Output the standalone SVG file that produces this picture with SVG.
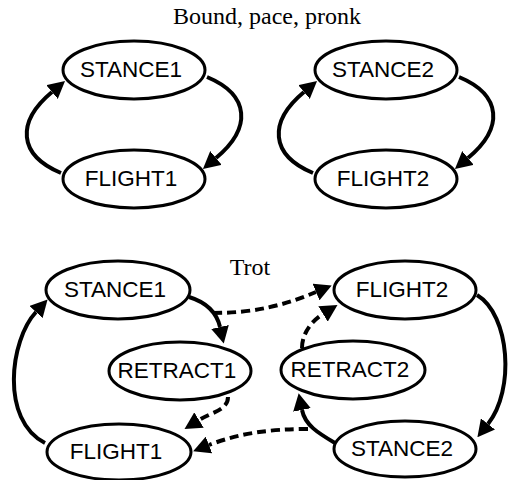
<svg xmlns="http://www.w3.org/2000/svg" width="510" height="480" viewBox="0 0 510 480">
<style>
.node ellipse{fill:#fff;stroke:#000;stroke-width:3}
.node text{font-family:"Liberation Sans",Arial,sans-serif;font-size:22.5px;text-anchor:middle;fill:#000}
.title{font-family:"Liberation Serif","Times New Roman",serif;font-size:24px;text-anchor:middle;fill:#000}
.edge{fill:none;stroke:#000;stroke-width:4;marker-end:url(#ah)}
.dash{stroke-dasharray:9 5}
</style>
<defs>
<marker id="ah" viewBox="0 0 17 18" refX="0" refY="9" markerWidth="17" markerHeight="18" markerUnits="userSpaceOnUse" orient="auto">
<path d="M0,0 L17,9 L0,18 z" fill="#000"/>
</marker>
</defs>
<rect width="510" height="480" fill="#fff"/>
<text class="title" x="267" y="24">Bound, pace, pronk</text>
<text class="title" x="250" y="275">Trot</text>
<g id="connectors">
<path class="edge" d="M61,173 C18,155 16,122 52,92"/>
<path class="edge" d="M207,77 C250,95 252,128 216,158"/>
<path class="edge" d="M313,173 C270,155 268,122 304,92"/>
<path class="edge" d="M459,77 C502,95 504,128 468,158"/>
<path class="edge" d="M45,443 C0,420 10,340 36,312"/>
<path class="edge" d="M189,297 Q215,305 220,327"/>
<path class="edge dash" d="M228,397 C228,410 212,412 199,420"/>
<path class="edge dash" d="M308,429 C270,429 240,433 209,445"/>
<path class="edge" d="M335,443 C318,433 305,425 302,410"/>
<path class="edge dash" d="M213,313 C255,313 285,305 316,292"/>
<path class="edge dash" d="M302,348 C302,335 310,322 323,314"/>
<path class="edge" d="M477,295 C510,315 515,390 488,424"/>
</g>
<g id="stance1-top" class="node"><ellipse cx="134" cy="70" rx="71" ry="29"/><text x="131" y="77">STANCE1</text></g>
<g id="flight1-top" class="node"><ellipse cx="134" cy="179" rx="71" ry="29"/><text x="131" y="186">FLIGHT1</text></g>
<g id="stance2-top" class="node"><ellipse cx="386" cy="70" rx="71" ry="29"/><text x="383" y="77">STANCE2</text></g>
<g id="flight2-top" class="node"><ellipse cx="386" cy="179" rx="71" ry="29"/><text x="383" y="186">FLIGHT2</text></g>
<g id="stance1-trot" class="node"><ellipse cx="118" cy="290" rx="72" ry="29"/><text x="115" y="297">STANCE1</text></g>
<g id="retract1" class="node"><ellipse cx="180" cy="371" rx="71" ry="29"/><text x="177" y="378">RETRACT1</text></g>
<g id="flight1-trot" class="node"><ellipse cx="119" cy="452" rx="72" ry="28"/><text x="116" y="459">FLIGHT1</text></g>
<g id="flight2-trot" class="node"><ellipse cx="405" cy="290" rx="71" ry="29"/><text x="402" y="297">FLIGHT2</text></g>
<g id="retract2" class="node"><ellipse cx="353" cy="370" rx="72" ry="29"/><text x="350" y="377">RETRACT2</text></g>
<g id="stance2-trot" class="node"><ellipse cx="405" cy="449" rx="71" ry="28"/><text x="402" y="456">STANCE2</text></g>
</svg>
